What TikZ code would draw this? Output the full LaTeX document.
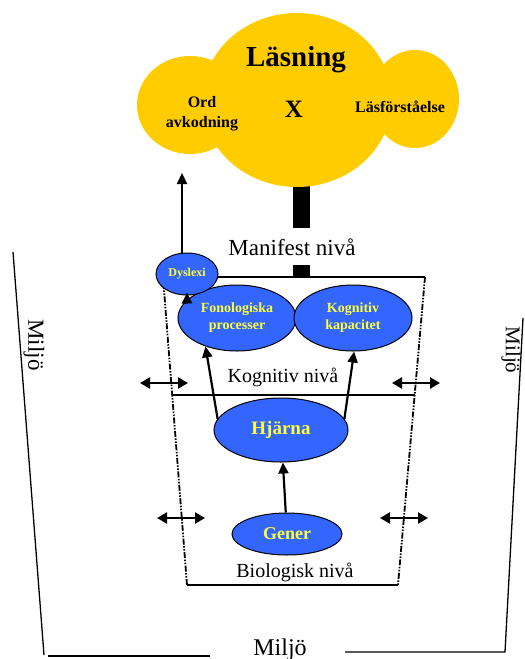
\documentclass[tikz,border=0pt]{standalone}
\usepackage{fontspec}
\setmainfont{Liberation Serif}
\usetikzlibrary{arrows.meta, shapes.geometric, calc}
\definecolor{cloudyellow}{HTML}{FFCC00}
\definecolor{blobblue}{HTML}{3366FF}
\definecolor{blobtext}{HTML}{FFFF33}

\begin{document}
\begin{tikzpicture}[x=1pt, y=-1pt,
  blob/.style={ellipse, draw=black, line width=1pt, fill=blobblue, text=blobtext, align=center, inner sep=0pt},
  lvl/.style={font=\fontsize{20}{22}\selectfont, anchor=base, inner sep=0pt},
  arr/.style={-{Triangle[length=11pt, width=10pt]}, line width=2.2pt},
  dbl/.style={{Triangle[length=10pt, width=11pt]}-{Triangle[length=10pt, width=11pt]}, line width=2.4pt},
  dashdot/.style={line width=1.8pt, dash pattern=on 6pt off 1.5pt on 1.5pt off 1.5pt on 1.5pt off 1.5pt},
  frame/.style={line width=1.3pt}
]
\useasboundingbox (0,0) rectangle (525,659);

% stem under the cloud
\coordinate (barA) at (301,160);
\coordinate (barB) at (301,277);
\draw[line width=17pt] (barA) -- (barB);

% cloud
\fill[cloudyellow] (297,100) ellipse [x radius=95, y radius=87];
\fill[cloudyellow] (190,105) ellipse [x radius=53, y radius=49];
\fill[cloudyellow] (415,99) ellipse [x radius=44, y radius=49];

\node[font=\bfseries\fontsize{29}{31}\selectfont, anchor=base] (lasn) at (296,66) {Läsning};
\node[font=\bfseries\fontsize{16}{20}\selectfont, align=center] (ord) at (202,114) {Ord\\avkodning};
\node[font=\bfseries\fontsize{25}{27}\selectfont] (x) at (294,109) {X};
\node[font=\bfseries\fontsize{16}{20}\selectfont, anchor=base] (lasf) at (400,112) {Läsförståelse};

\node[lvl, font=\fontsize{23}{25}\selectfont, fill=white, text height=17pt, text depth=0pt, inner ysep=10pt, inner xsep=2pt] (manif) at (292,255) {Manifest nivå};

% box
\coordinate (TL) at (163,277);
\coordinate (TR) at (425,277);
\coordinate (BR) at (398,585);
\coordinate (BL) at (187,585);
\draw[frame] (TL) -- (TR);
\draw[dashdot] (TR) -- (BR);
\draw[frame] (BR) -- (BL);
\draw[dashdot] (BL) -- (TL);
\draw[frame] ($(TL)!0.383!(BL)$) -- ($(TR)!0.383!(BR)$);

% ellipses
\node[blob, minimum width=118, minimum height=66, font=\bfseries\fontsize{14}{17}\selectfont] (fon) at (237,318) {Fonologiska\\processer};
\node[blob, minimum width=118, minimum height=66, font=\bfseries\fontsize{14}{17}\selectfont] (kog) at (353,318) {Kognitiv\\kapacitet};
\node[blob, minimum width=62, minimum height=42, font=\bfseries\fontsize{12}{14}\selectfont] (dys) at (187,274) {Dyslexi};
\node[blob, minimum width=134, minimum height=64, font=\bfseries\fontsize{19}{21}\selectfont] (hj) at (281,430) {Hjärna};
\node[blob, minimum width=110, minimum height=42, font=\bfseries\fontsize{18}{20}\selectfont] (gen) at (287,534) {Gener};

\node[lvl] (kniv) at (283,382) {Kognitiv nivå};
\node[lvl] (bniv) at (295,577) {Biologisk nivå};

% arrows
\coordinate (lsnup) at (182,173);
\draw[arr] (lsnup |- dys.north) -- (lsnup);
\draw[arr] (fon.160) -- ([yshift=3pt]dys.south);
\draw[arr] (hj.170) -- (fon.222);
\draw[arr] (hj.10) -- (kog.-88);
\draw[arr] (gen) -- (hj);

\coordinate (kl) at (140,383);
\coordinate (kr) at (188,383);
\coordinate (kl2) at (392,383);
\coordinate (kr2) at (440,383);
\coordinate (bl) at (157,518);
\coordinate (br) at (205,518);
\coordinate (bl2) at (380,518);
\coordinate (br2) at (428,518);
\draw[dbl] (kl) -- (kr);
\draw[dbl] (kl2) -- (kr2);
\draw[dbl] (bl) -- (br);
\draw[dbl] (bl2) -- (br2);

% environment
\draw[frame] (13,252) -- (44,655);
\draw[frame] (48,656) -- (210,656);
\draw[frame] (345,652) -- (505,652) -- (523,318);
\node[font=\fontsize{24}{26}\selectfont, anchor=base, inner sep=0pt] (milb) at (280,655) {Miljö};
\node[font=\fontsize{23}{25}\selectfont, rotate=-90, inner sep=0pt] (mill) at (34,345) {Miljö};
\node[font=\fontsize{21}{23}\selectfont, rotate=-90, inner sep=0pt] (milr) at (511,350) {Miljö};
\end{tikzpicture}
\end{document}
